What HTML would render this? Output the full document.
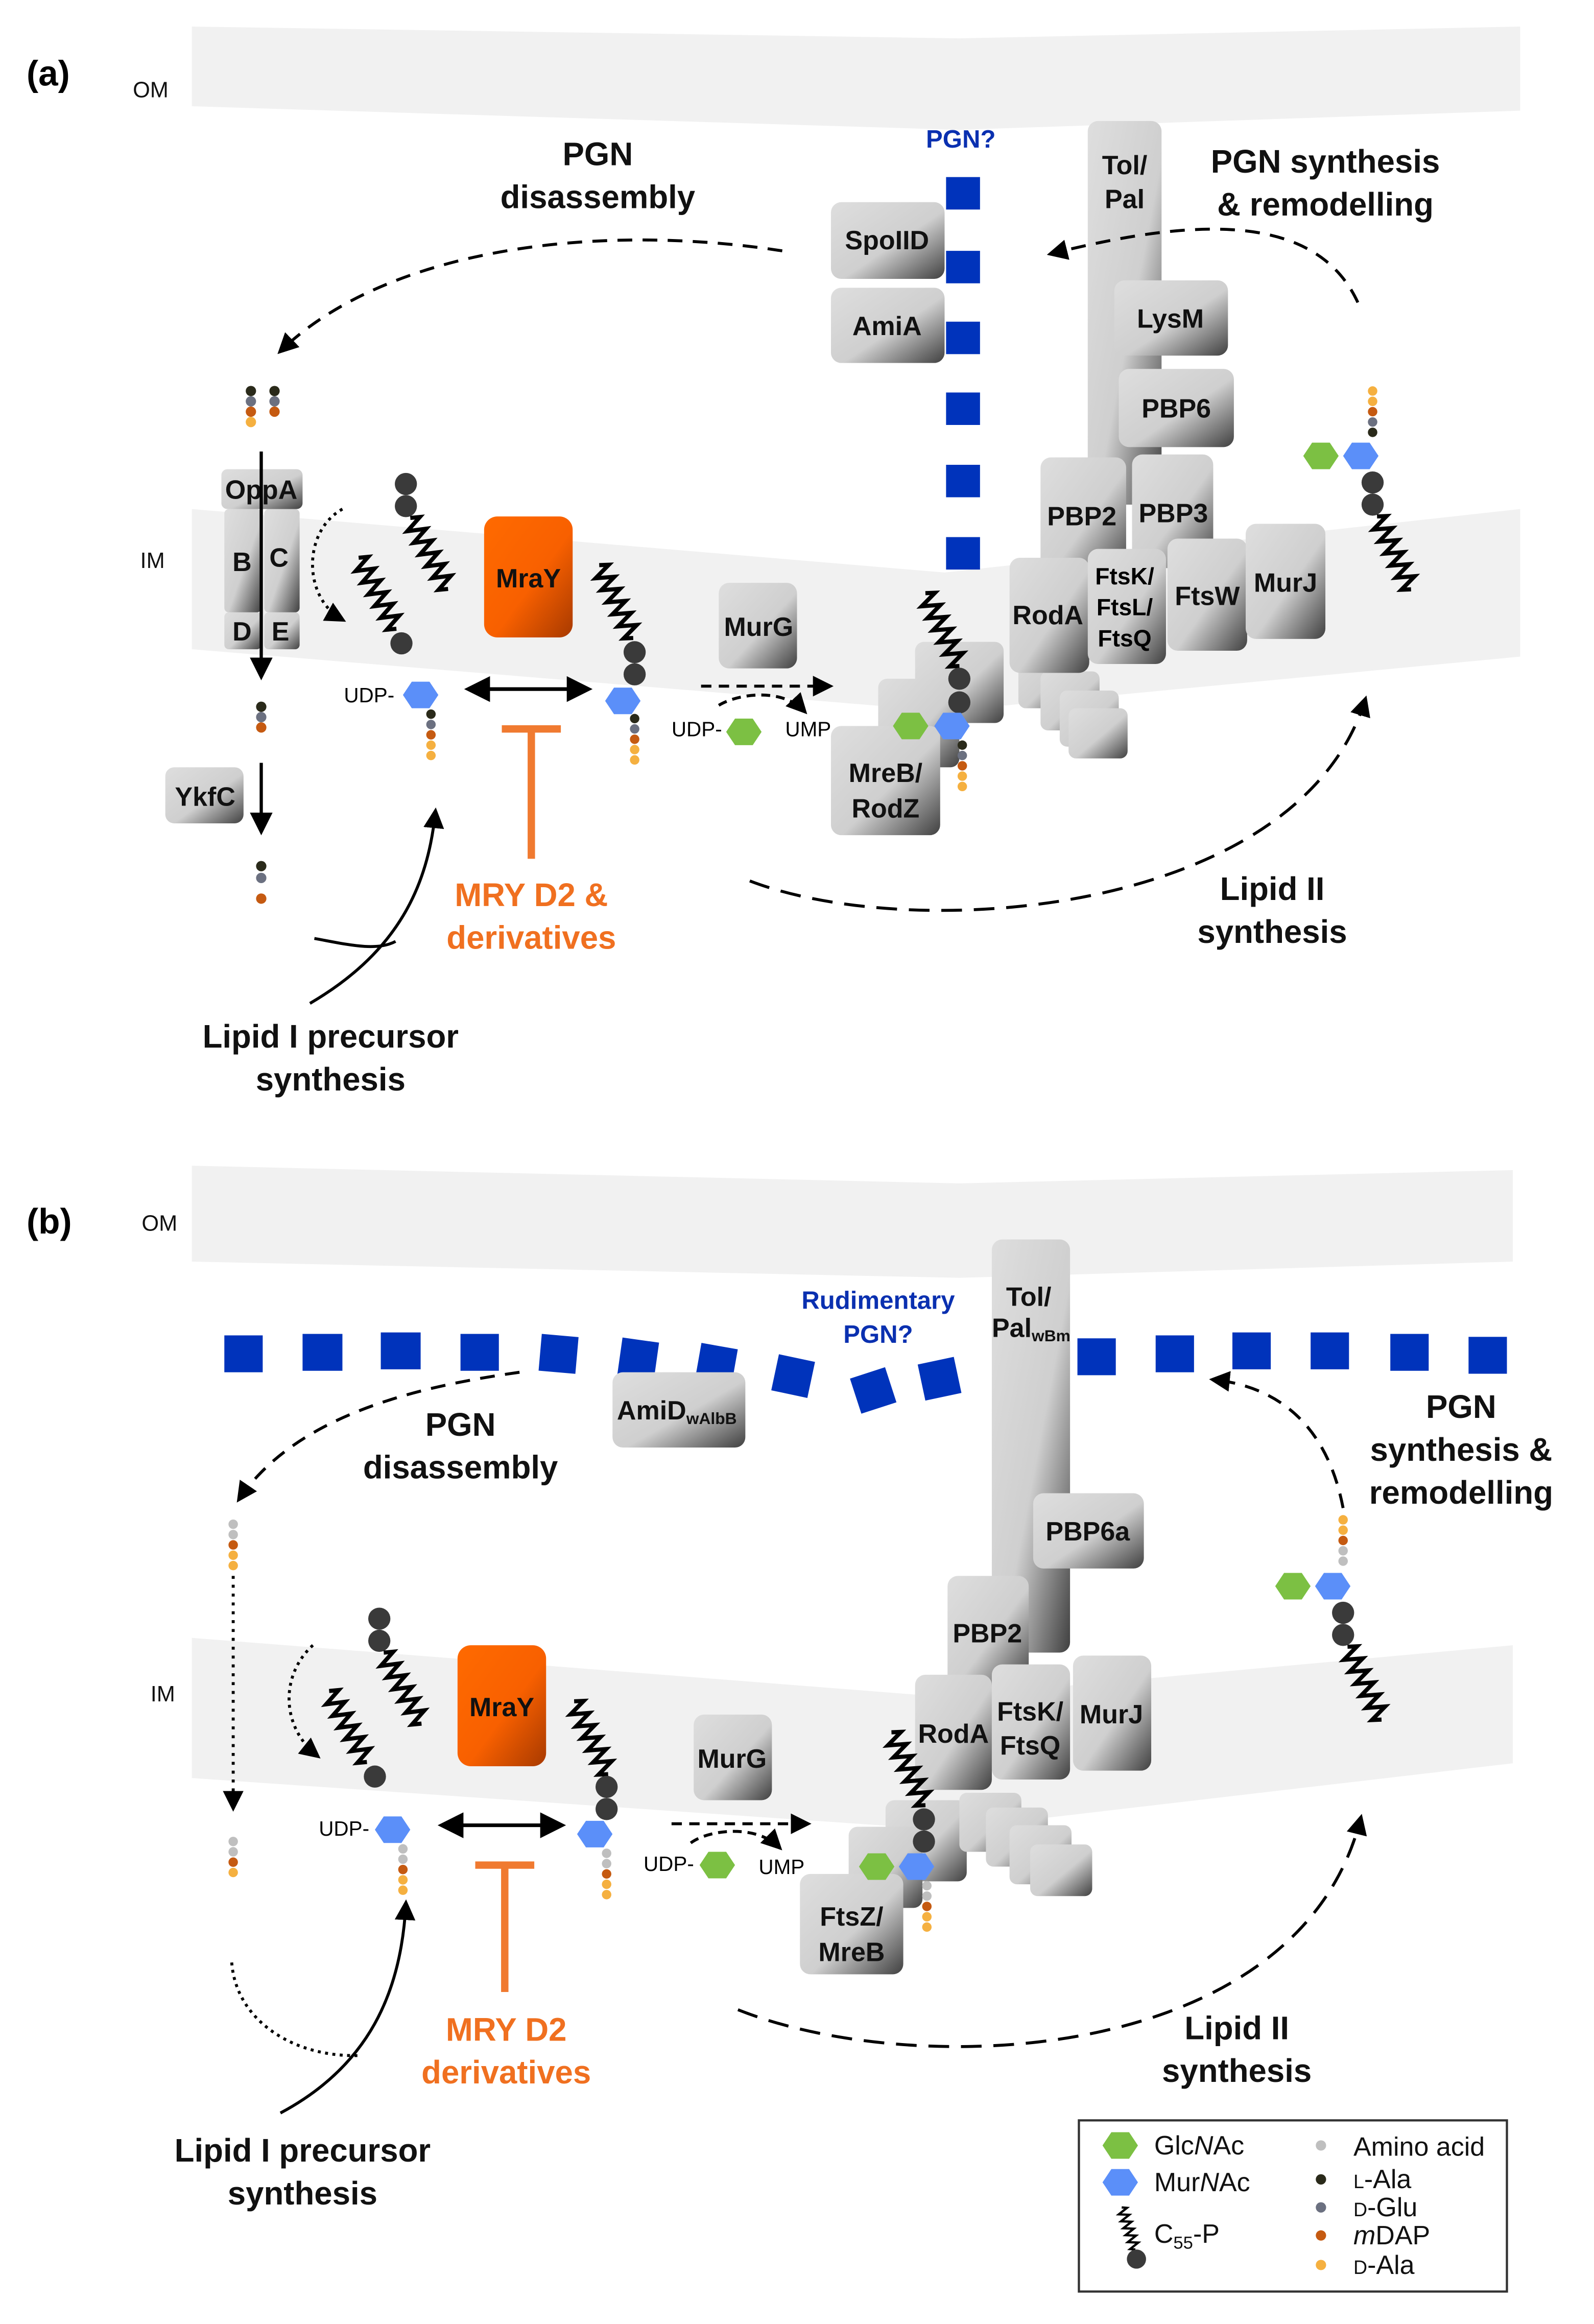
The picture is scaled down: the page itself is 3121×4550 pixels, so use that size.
<!DOCTYPE html>
<html><head><meta charset="utf-8"><style>
html,body{margin:0;padding:0;background:#fff;}
svg{display:block;}
text{font-family:"Liberation Sans",sans-serif;}
.b{font-weight:bold;font-size:18px;fill:#111;text-anchor:middle;}
.t{font-weight:bold;font-size:22px;fill:#111;text-anchor:middle;}
.o{font-weight:bold;font-size:22px;fill:#f07020;text-anchor:middle;}
.s{font-size:15px;fill:#111;}
.lg{font-size:18px;fill:#111;}
</style></head><body>
<svg width="3121" height="4550" viewBox="0 0 1080 1575" preserveAspectRatio="none" xmlns="http://www.w3.org/2000/svg">
<defs>
<linearGradient id="g" x1="0" y1="0" x2="1" y2="1">
<stop offset="0" stop-color="#dedede"/><stop offset="0.55" stop-color="#cfcfcf"/><stop offset="1" stop-color="#404040"/></linearGradient>
<linearGradient id="og" x1="0" y1="0" x2="1" y2="1">
<stop offset="0" stop-color="#ff6a00"/><stop offset="0.55" stop-color="#f86000"/><stop offset="1" stop-color="#a83a00"/></linearGradient>
<path id="spr" d="M0,0 l6,2.5 l-12,4.5 l12,4.5 l-12,4.5 l12,4.5 l-12,4.5 l12,4.5 l-12,4.5 l12,4.5 l-12,4.5 l12,4.5 l-12,4.5 l6,2.5" fill="none" stroke="#000" stroke-width="2.8"/>
<polygon id="hex" points="-12,0 -6,-9 6,-9 12,0 6,9 -6,9"/>
<marker id="ar" viewBox="0 0 10 10" refX="8" refY="5" markerWidth="7" markerHeight="7" orient="auto-start-reverse"><path d="M0,0 L10,5 L0,10 Z" fill="#000"/></marker>
</defs>

<!-- ===== (a) membranes ===== -->
<path d="M130,18 L650,26 L1030,18 L1030,75 L650,88 L130,72 Z" fill="#f1f1f1"/>
<path d="M130,345 L640,388 L1030,345 L1030,445 L640,482 L130,440 Z" fill="#f1f1f1"/>
<text x="18" y="58" style="font-weight:bold;font-size:24px">(a)</text>
<text x="90" y="66" class="s">OM</text>
<text x="95" y="385" class="s">IM</text>

<text x="405" y="112" class="t">PGN</text>
<text x="405" y="141" class="t">disassembly</text>
<text x="898" y="117" class="t">PGN synthesis</text>
<text x="898" y="146" class="t">&amp; remodelling</text>
<text x="651" y="100" style="font-weight:bold;font-size:17px;fill:#0a30b0;text-anchor:middle">PGN?</text>
<g fill="#0033bb">
<rect x="641" y="120" width="23" height="22"/><rect x="641" y="170" width="23" height="22"/><rect x="641" y="218" width="23" height="22"/>
<rect x="641" y="266" width="23" height="22"/><rect x="641" y="315" width="23" height="22"/><rect x="641" y="364" width="23" height="22"/></g>

<g fill="url(#g)">
<rect x="563" y="137" width="77" height="52" rx="7"/>
<rect x="563" y="195" width="77" height="51" rx="7"/>
<rect x="737" y="82" width="50" height="260" rx="7"/>
<rect x="755" y="190" width="77" height="51" rx="7"/>
<rect x="758" y="250" width="78" height="53" rx="7"/>
<rect x="705" y="310" width="58" height="80" rx="7"/>
<rect x="767" y="308" width="55" height="77" rx="7"/>
<rect x="620" y="435" width="60" height="55" rx="6"/>
<rect x="595" y="460" width="55" height="60" rx="6"/>
<rect x="690" y="440" width="40" height="40" rx="5"/>
<rect x="705" y="455" width="40" height="40" rx="5"/>
<rect x="718" y="468" width="40" height="38" rx="5"/>
<rect x="724" y="480" width="40" height="34" rx="5"/>
<rect x="684" y="378" width="54" height="78" rx="7"/>
<rect x="737" y="372" width="53" height="78" rx="7"/>
<rect x="791" y="365" width="54" height="76" rx="7"/>
<rect x="844" y="355" width="54" height="78" rx="7"/>
<rect x="563" y="492" width="74" height="74" rx="7"/>
<rect x="487" y="395" width="53" height="58" rx="7"/>
<rect x="112" y="520" width="53" height="38" rx="6"/>
<rect x="152" y="345" width="25" height="70" rx="3"/>
<rect x="179" y="345" width="24" height="70" rx="3"/>
<rect x="152" y="415" width="25" height="25" rx="3"/>
<rect x="179" y="415" width="24" height="25" rx="3"/>
<rect x="150" y="318" width="55" height="27" rx="4"/>
</g>
<rect x="328" y="350" width="60" height="82" rx="9" fill="url(#og)"/>
<text x="601" y="169" class="b">SpoIID</text>
<text x="601" y="227" class="b">AmiA</text>
<text x="762" y="118" class="b">Tol/</text><text x="762" y="141" class="b">Pal</text>
<text x="793" y="222" class="b">LysM</text>
<text x="797" y="283" class="b">PBP6</text>
<text x="733" y="356" class="b">PBP2</text>
<text x="795" y="354" class="b">PBP3</text>
<text x="710" y="423" class="b">RodA</text>
<text x="762" y="396" style="font-weight:bold;font-size:16px;text-anchor:middle">FtsK/</text>
<text x="762" y="417" style="font-weight:bold;font-size:16px;text-anchor:middle">FtsL/</text>
<text x="762" y="438" style="font-weight:bold;font-size:16px;text-anchor:middle">FtsQ</text>
<text x="818" y="410" class="b">FtsW</text>
<text x="871" y="401" class="b">MurJ</text>
<text x="600" y="530" class="b">MreB/</text><text x="600" y="554" class="b">RodZ</text>
<text x="514" y="431" class="b">MurG</text>
<text x="139" y="546" class="b">YkfC</text>
<text x="177" y="338" class="b">OppA</text>
<text x="164" y="387" class="b">B</text><text x="189" y="384" class="b">C</text>
<text x="164" y="434" class="b">D</text><text x="190" y="434" class="b">E</text>
<text x="358" y="398" class="b">MraY</text>

<!-- left pathway -->
<g>
<circle cx="170" cy="265" r="3.5" fill="#2a2a1a"/><circle cx="170" cy="272" r="3.5" fill="#6b7080"/><circle cx="170" cy="279" r="3.5" fill="#c55a11"/><circle cx="170" cy="286" r="3.5" fill="#f5b040"/>
<circle cx="186" cy="265" r="3.5" fill="#2a2a1a"/><circle cx="186" cy="272" r="3.5" fill="#6b7080"/><circle cx="186" cy="279" r="3.5" fill="#c55a11"/>
<circle cx="177" cy="479" r="3.5" fill="#2a2a1a"/><circle cx="177" cy="486" r="3.5" fill="#6b7080"/><circle cx="177" cy="493" r="3.5" fill="#c55a11"/>
<circle cx="177" cy="587" r="3.5" fill="#2a2a1a"/><circle cx="177" cy="595" r="3.5" fill="#6b7080"/><circle cx="177" cy="609" r="3.5" fill="#c55a11"/>
</g>
<line x1="177" y1="306" x2="177" y2="458" stroke="#000" stroke-width="2.2" marker-end="url(#ar)"/>
<line x1="177" y1="517" x2="177" y2="563" stroke="#000" stroke-width="2.2" marker-end="url(#ar)"/>
<path d="M232,345 C205,360 205,405 232,420" fill="none" stroke="#000" stroke-width="2" stroke-dasharray="2,3" marker-end="url(#ar)"/>

<!-- carriers (a) -->
<circle cx="275" cy="328" r="7.5" fill="#3a3a3a"/><circle cx="275" cy="343" r="7.5" fill="#3a3a3a"/>
<use href="#spr" transform="translate(278,351) rotate(-28)"/>
<use href="#spr" transform="translate(243,378) rotate(-28)"/>
<circle cx="272" cy="436" r="7.5" fill="#3a3a3a"/>
<text x="233" y="476" style="font-size:14px">UDP-</text>
<use href="#hex" x="285" y="471" fill="#5b8ff9"/>
<g><circle cx="292" cy="484" r="3.2" fill="#2a2a1a"/><circle cx="292" cy="491" r="3.2" fill="#6b7080"/><circle cx="292" cy="498" r="3.2" fill="#c55a11"/><circle cx="292" cy="505" r="3.2" fill="#f5b040"/><circle cx="292" cy="512" r="3.2" fill="#f5b040"/></g>
<line x1="318" y1="467" x2="398" y2="467" stroke="#000" stroke-width="2.5" marker-start="url(#ar)" marker-end="url(#ar)"/>
<line x1="340" y1="494" x2="380" y2="494" stroke="#f07a30" stroke-width="5"/>
<line x1="360" y1="494" x2="360" y2="582" stroke="#f07a30" stroke-width="5"/>
<text x="360" y="614" class="o">MRY D2 &amp;</text>
<text x="360" y="643" class="o">derivatives</text>
<use href="#spr" transform="translate(406,383) rotate(-25)"/>
<circle cx="430" cy="442" r="7.5" fill="#3a3a3a"/><circle cx="430" cy="457" r="7.5" fill="#3a3a3a"/>
<use href="#hex" x="422" y="475" fill="#5b8ff9"/>
<g><circle cx="430" cy="487" r="3.2" fill="#2a2a1a"/><circle cx="430" cy="494" r="3.2" fill="#6b7080"/><circle cx="430" cy="501" r="3.2" fill="#c55a11"/><circle cx="430" cy="508" r="3.2" fill="#f5b040"/><circle cx="430" cy="515" r="3.2" fill="#f5b040"/></g>
<line x1="475" y1="465" x2="562" y2="465" stroke="#000" stroke-width="2" stroke-dasharray="7,5" marker-end="url(#ar)"/>
<path d="M487,478 C500,470 530,466 545,482" fill="none" stroke="#000" stroke-width="2" stroke-dasharray="6,4" marker-end="url(#ar)"/>
<text x="455" y="499" style="font-size:14px">UDP-</text>
<use href="#hex" x="504" y="496" fill="#7cc043"/>
<text x="532" y="499" style="font-size:14px">UMP</text>

<!-- lipid II at MreB -->
<use href="#spr" transform="translate(627,402) rotate(-25)"/>
<circle cx="650" cy="460" r="7.5" fill="#3a3a3a"/><circle cx="650" cy="476" r="7.5" fill="#3a3a3a"/>
<use href="#hex" x="617" y="492" fill="#7cc043"/><use href="#hex" x="645" y="492" fill="#5b8ff9"/>
<g><circle cx="652" cy="505" r="3.2" fill="#2a2a1a"/><circle cx="652" cy="512" r="3.2" fill="#6b7080"/><circle cx="652" cy="519" r="3.2" fill="#c55a11"/><circle cx="652" cy="526" r="3.2" fill="#f5b040"/><circle cx="652" cy="533" r="3.2" fill="#f5b040"/></g>
<!-- right lipid II -->
<g><circle cx="930" cy="265" r="3.2" fill="#f5b040"/><circle cx="930" cy="272" r="3.2" fill="#f5b040"/><circle cx="930" cy="279" r="3.2" fill="#c55a11"/><circle cx="930" cy="286" r="3.2" fill="#6b7080"/><circle cx="930" cy="293" r="3.2" fill="#2a2a1a"/></g>
<use href="#hex" x="895" y="309" fill="#7cc043"/><use href="#hex" x="922" y="309" fill="#5b8ff9"/>
<circle cx="930" cy="327" r="7.5" fill="#3a3a3a"/><circle cx="930" cy="342" r="7.5" fill="#3a3a3a"/>
<use href="#spr" transform="translate(933,350) rotate(-25)"/>

<!-- arcs (a) -->
<path d="M530,170 C400,150 260,170 190,238" fill="none" stroke="#000" stroke-width="2" stroke-dasharray="10,7" marker-end="url(#ar)"/>
<path d="M920,205 C890,140 800,150 712,172" fill="none" stroke="#000" stroke-width="2" stroke-dasharray="10,7" marker-end="url(#ar)"/>
<path d="M508,597 C620,640 880,620 925,474" fill="none" stroke="#000" stroke-width="2" stroke-dasharray="14,8" marker-end="url(#ar)"/>
<path d="M210,680 C270,645 290,600 295,550" fill="none" stroke="#000" stroke-width="2" marker-end="url(#ar)"/>
<path d="M213,636 C235,640 255,645 268,638" fill="none" stroke="#000" stroke-width="2"/>
<text x="224" y="710" class="t">Lipid I precursor</text>
<text x="224" y="739" class="t">synthesis</text>
<text x="862" y="610" class="t">Lipid II</text>
<text x="862" y="639" class="t">synthesis</text>

<!-- ===== (b) ===== -->
<path d="M130,790 L650,802 L1025,793 L1025,855 L650,866 L130,855 Z" fill="#f1f1f1"/>
<path d="M130,1110 L640,1150 L1025,1115 L1025,1195 L640,1240 L130,1205 Z" fill="#f1f1f1"/>
<text x="18" y="836" style="font-weight:bold;font-size:24px">(b)</text>
<text x="96" y="834" class="s">OM</text>
<text x="102" y="1153" class="s">IM</text>
<g fill="#0033bb">
<rect x="152" y="905" width="26" height="25"/>
<rect x="205" y="904" width="27" height="25"/>
<rect x="258" y="903" width="27" height="25"/>
<rect x="312" y="904" width="26" height="25"/>
<rect x="366" y="905" width="25" height="25" transform="rotate(5 378 917)"/>
<rect x="420" y="908" width="25" height="25" transform="rotate(8 432 920)"/>
<rect x="473" y="912" width="25" height="25" transform="rotate(10 485 924)"/>
<rect x="525" y="920" width="25" height="25" transform="rotate(12 537 932)"/>
<rect x="579" y="930" width="25" height="25" transform="rotate(-18 591 942)"/>
<rect x="624" y="922" width="25" height="25" transform="rotate(-12 636 934)"/>
<rect x="730" y="907" width="26" height="25"/>
<rect x="783" y="905" width="26" height="25"/>
<rect x="835" y="903" width="26" height="25"/>
<rect x="888" y="903" width="26" height="25"/>
<rect x="942" y="904" width="26" height="25"/>
<rect x="995" y="906" width="26" height="25"/>
</g>
<text x="595" y="887" style="font-weight:bold;font-size:17px;fill:#0a30b0;text-anchor:middle">Rudimentary</text>
<text x="595" y="910" style="font-weight:bold;font-size:17px;fill:#0a30b0;text-anchor:middle">PGN?</text>
<g fill="url(#g)">
<rect x="672" y="840" width="53" height="280" rx="7"/>
<rect x="415" y="930" width="90" height="51" rx="7"/>
<rect x="700" y="1012" width="75" height="51" rx="7"/>
<rect x="642" y="1068" width="55" height="75" rx="7"/>
<rect x="600" y="1220" width="55" height="55" rx="6"/>
<rect x="575" y="1238" width="50" height="55" rx="6"/>
<rect x="650" y="1215" width="42" height="40" rx="5"/>
<rect x="668" y="1225" width="42" height="40" rx="5"/>
<rect x="684" y="1237" width="42" height="40" rx="5"/>
<rect x="698" y="1250" width="42" height="35" rx="5"/>
<rect x="620" y="1135" width="52" height="78" rx="7"/>
<rect x="672" y="1128" width="53" height="78" rx="7"/>
<rect x="727" y="1122" width="53" height="78" rx="7"/>
<rect x="542" y="1270" width="70" height="68" rx="7"/>
<rect x="470" y="1162" width="53" height="58" rx="7"/>
</g>
<rect x="310" y="1115" width="60" height="82" rx="9" fill="url(#og)"/>
<text x="697" y="885" class="b">Tol/</text>
<text x="672" y="906" style="font-weight:bold;font-size:18px;fill:#111">Pal<tspan style="font-size:11px" dy="3">wBm</tspan></text>
<text x="418" y="962" style="font-weight:bold;font-size:18px;fill:#111">AmiD<tspan style="font-size:11px" dy="3">wAlbB</tspan></text>
<text x="737" y="1044" class="b">PBP6a</text>
<text x="669" y="1113" class="b">PBP2</text>
<text x="646" y="1181" class="b">RodA</text>
<text x="698" y="1166" class="b">FtsK/</text><text x="698" y="1189" class="b">FtsQ</text>
<text x="753" y="1168" class="b">MurJ</text>
<text x="577" y="1305" class="b">FtsZ/</text><text x="577" y="1329" class="b">MreB</text>
<text x="496" y="1198" class="b">MurG</text>
<text x="340" y="1163" class="b">MraY</text>
<text x="312" y="973" class="t">PGN</text>
<text x="312" y="1002" class="t">disassembly</text>
<text x="990" y="961" class="t">PGN</text>
<text x="990" y="990" class="t">synthesis &amp;</text>
<text x="990" y="1019" class="t">remodelling</text>

<g><circle cx="158" cy="1033" r="3.2" fill="#bfbfbf"/><circle cx="158" cy="1040" r="3.2" fill="#bfbfbf"/><circle cx="158" cy="1047" r="3.2" fill="#c55a11"/><circle cx="158" cy="1054" r="3.2" fill="#f5b040"/><circle cx="158" cy="1061" r="3.2" fill="#f5b040"/>
<circle cx="158" cy="1248" r="3.2" fill="#bfbfbf"/><circle cx="158" cy="1255" r="3.2" fill="#bfbfbf"/><circle cx="158" cy="1262" r="3.2" fill="#c55a11"/><circle cx="158" cy="1269" r="3.2" fill="#f5b040"/></g>
<line x1="158" y1="1068" x2="158" y2="1225" stroke="#000" stroke-width="2" stroke-dasharray="2,4" marker-end="url(#ar)"/>
<path d="M212,1115 C190,1135 190,1170 215,1190" fill="none" stroke="#000" stroke-width="2" stroke-dasharray="2,3" marker-end="url(#ar)"/>
<path d="M157,1330 C160,1370 200,1395 245,1393" fill="none" stroke="#000" stroke-width="2" stroke-dasharray="2,3"/>

<circle cx="257" cy="1097" r="7.5" fill="#3a3a3a"/><circle cx="257" cy="1112" r="7.5" fill="#3a3a3a"/>
<use href="#spr" transform="translate(260,1120) rotate(-28)"/>
<use href="#spr" transform="translate(223,1146) rotate(-28)"/>
<circle cx="254" cy="1204" r="7.5" fill="#3a3a3a"/>
<text x="216" y="1244" style="font-size:14px">UDP-</text>
<use href="#hex" x="266" y="1240" fill="#5b8ff9"/>
<g><circle cx="273" cy="1253" r="3.2" fill="#bfbfbf"/><circle cx="273" cy="1260" r="3.2" fill="#bfbfbf"/><circle cx="273" cy="1267" r="3.2" fill="#c55a11"/><circle cx="273" cy="1274" r="3.2" fill="#f5b040"/><circle cx="273" cy="1281" r="3.2" fill="#f5b040"/></g>
<line x1="300" y1="1237" x2="380" y2="1237" stroke="#000" stroke-width="2.5" marker-start="url(#ar)" marker-end="url(#ar)"/>
<line x1="322" y1="1264" x2="362" y2="1264" stroke="#f07a30" stroke-width="5"/>
<line x1="342" y1="1264" x2="342" y2="1350" stroke="#f07a30" stroke-width="5"/>
<text x="343" y="1383" class="o">MRY D2</text>
<text x="343" y="1412" class="o">derivatives</text>
<use href="#spr" transform="translate(389,1153) rotate(-25)"/>
<circle cx="411" cy="1211" r="7.5" fill="#3a3a3a"/><circle cx="411" cy="1226" r="7.5" fill="#3a3a3a"/>
<use href="#hex" x="403" y="1243" fill="#5b8ff9"/>
<g><circle cx="411" cy="1256" r="3.2" fill="#bfbfbf"/><circle cx="411" cy="1263" r="3.2" fill="#bfbfbf"/><circle cx="411" cy="1270" r="3.2" fill="#c55a11"/><circle cx="411" cy="1277" r="3.2" fill="#f5b040"/><circle cx="411" cy="1284" r="3.2" fill="#f5b040"/></g>
<line x1="455" y1="1236" x2="547" y2="1236" stroke="#000" stroke-width="2" stroke-dasharray="7,5" marker-end="url(#ar)"/>
<path d="M468,1249 C480,1240 512,1236 528,1252" fill="none" stroke="#000" stroke-width="2" stroke-dasharray="6,4" marker-end="url(#ar)"/>
<text x="436" y="1268" style="font-size:14px">UDP-</text>
<use href="#hex" x="486" y="1264" fill="#7cc043"/>
<text x="514" y="1270" style="font-size:14px">UMP</text>

<use href="#spr" transform="translate(604,1174) rotate(-25)"/>
<circle cx="626" cy="1233" r="7.5" fill="#3a3a3a"/><circle cx="626" cy="1248" r="7.5" fill="#3a3a3a"/>
<use href="#hex" x="594" y="1265" fill="#7cc043"/><use href="#hex" x="621" y="1265" fill="#5b8ff9"/>
<g><circle cx="628" cy="1278" r="3.2" fill="#bfbfbf"/><circle cx="628" cy="1285" r="3.2" fill="#bfbfbf"/><circle cx="628" cy="1292" r="3.2" fill="#c55a11"/><circle cx="628" cy="1299" r="3.2" fill="#f5b040"/><circle cx="628" cy="1306" r="3.2" fill="#f5b040"/></g>
<g><circle cx="910" cy="1030" r="3.2" fill="#f5b040"/><circle cx="910" cy="1037" r="3.2" fill="#f5b040"/><circle cx="910" cy="1044" r="3.2" fill="#c55a11"/><circle cx="910" cy="1051" r="3.2" fill="#bfbfbf"/><circle cx="910" cy="1058" r="3.2" fill="#bfbfbf"/></g>
<use href="#hex" x="876" y="1075" fill="#7cc043"/><use href="#hex" x="903" y="1075" fill="#5b8ff9"/>
<circle cx="910" cy="1093" r="7.5" fill="#3a3a3a"/><circle cx="910" cy="1108" r="7.5" fill="#3a3a3a"/>
<use href="#spr" transform="translate(913,1116) rotate(-25)"/>

<path d="M352,930 C280,940 200,960 162,1016" fill="none" stroke="#000" stroke-width="2" stroke-dasharray="10,7" marker-end="url(#ar)"/>
<path d="M910,1022 C900,970 870,940 822,935" fill="none" stroke="#000" stroke-width="2" stroke-dasharray="10,7" marker-end="url(#ar)"/>
<path d="M500,1362 C620,1410 880,1400 922,1232" fill="none" stroke="#000" stroke-width="2" stroke-dasharray="14,8" marker-end="url(#ar)"/>
<path d="M190,1432 C250,1400 272,1350 275,1290" fill="none" stroke="#000" stroke-width="2" marker-end="url(#ar)"/>
<text x="205" y="1465" class="t">Lipid I precursor</text>
<text x="205" y="1494" class="t">synthesis</text>
<text x="838" y="1382" class="t">Lipid II</text>
<text x="838" y="1411" class="t">synthesis</text>

<!-- legend -->
<rect x="731" y="1437" width="290" height="116" fill="#fff" stroke="#333" stroke-width="1.5"/>
<use href="#hex" x="759" y="1454" fill="#7cc043"/>
<use href="#hex" x="759" y="1479" fill="#5b8ff9"/>
<use href="#spr" transform="translate(760,1496) rotate(-18) scale(0.55)"/>
<circle cx="770" cy="1531" r="6.5" fill="#3a3a3a"/>
<text x="782" y="1460" class="lg">Glc<tspan font-style="italic">N</tspan>Ac</text>
<text x="782" y="1485" class="lg">Mur<tspan font-style="italic">N</tspan>Ac</text>
<text x="782" y="1520" class="lg">C<tspan style="font-size:12px" dy="4">55</tspan><tspan dy="-4">-P</tspan></text>
<circle cx="895" cy="1454" r="3.5" fill="#bfbfbf"/><circle cx="895" cy="1477" r="3.5" fill="#2a2a1a"/><circle cx="895" cy="1496" r="3.5" fill="#6b7080"/><circle cx="895" cy="1515" r="3.5" fill="#c55a11"/><circle cx="895" cy="1535" r="3.5" fill="#f5b040"/>
<text x="917" y="1461" class="lg">Amino acid</text>
<text x="917" y="1483" class="lg"><tspan style="font-size:13px">L</tspan>-Ala</text>
<text x="917" y="1502" class="lg"><tspan style="font-size:13px">D</tspan>-Glu</text>
<text x="917" y="1521" class="lg"><tspan font-style="italic">m</tspan>DAP</text>
<text x="917" y="1541" class="lg"><tspan style="font-size:13px">D</tspan>-Ala</text>
</svg>
</body></html>
